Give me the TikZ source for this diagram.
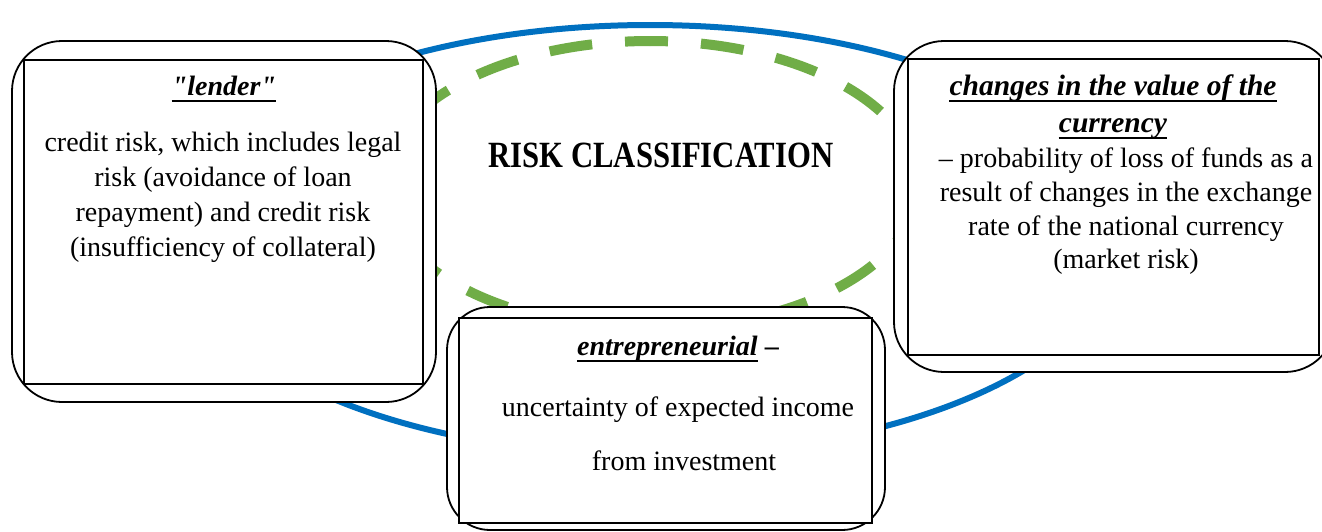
\documentclass[tikz,border=0pt]{standalone}
\usepackage{fontspec}
\setmainfont{Liberation Serif}[Ligatures=TeXOff]
\usepackage{graphicx}
\definecolor{ovalblue}{RGB}{0,112,192}
\definecolor{ovalgreen}{RGB}{112,173,71}
\tikzset{
  blueoval/.style={draw=ovalblue, line width=6pt},
  greenoval/.style={draw=ovalgreen, line width=10pt, dash pattern=on 43pt off 33pt, dash phase=#1},
  outerbox/.style={draw=black, line width=1.8pt, fill=white, rounded corners=#1, inner sep=0pt, outer sep=0pt, anchor=north west},
  outerbox/.default=50pt,
  innerbox/.style={draw=black, line width=1.8pt, fill=white, inner sep=0pt, outer sep=0pt, anchor=north west},
  txt/.style={inner sep=0pt, anchor=base, font=\fontsize{28}{34}\selectfont},
  head/.style={inner sep=0pt, anchor=base, font=\fontsize{28}{34}\selectfont\bfseries\itshape},
  rhead/.style={inner sep=0pt, anchor=base, font=\fontsize{29.5}{36}\selectfont\bfseries\itshape},
  title/.style={inner sep=0pt, anchor=base, font=\fontsize{37}{44}\selectfont\bfseries},
  uline/.style={draw=black, line width=2.4pt}
}
\begin{document}
\begin{tikzpicture}[x=1pt,y=-1pt]
\clip (0,0) rectangle (1322,531);
\fill[white] (0,0) rectangle (1322,531);
% blue oval
\draw[blueoval] (650,240) ellipse [x radius=470, y radius=215];
% green dashed oval, drawn by quadrants
\coordinate (gtop) at (650,41);
\coordinate (gleft) at (382,185);
\coordinate (gbot) at (650,329);
\draw[greenoval=18pt] (gtop) arc [start angle=-90, end angle=-180, x radius=268, y radius=144];
\draw[greenoval=9pt] (gleft) arc [start angle=180, end angle=90, x radius=268, y radius=144];
\draw[greenoval=35pt] (gbot) arc [start angle=90, end angle=0, x radius=268, y radius=144];
\draw[greenoval=25pt] (gtop) arc [start angle=-90, end angle=0, x radius=268, y radius=144];
% title
\node[title] (title) at (661,167) {\scalebox{0.83}[1]{RISK CLASSIFICATION}};
% left box
\node[outerbox, minimum width=424pt, minimum height=361pt] (lout) at (12,41) {};
\node[innerbox, minimum width=399pt, minimum height=324pt] (lin) at (24,60) {};
\node[head] (lh) at (224,95) {"lender"};
\draw[uline] ([yshift=-6pt]lh.base west) -- ([yshift=-6pt]lh.base east);
\node[txt] (l1) at (223,151) {credit risk, which includes legal};
\node[txt] (l2) at (223,186) {risk (avoidance of loan};
\node[txt] (l3) at (223,221) {repayment) and credit risk};
\node[txt] (l4) at (223,256) {(insufficiency of collateral)};
% right box
\node[outerbox, minimum width=441pt, minimum height=331pt] (rout) at (894,41) {};
\node[innerbox, minimum width=411pt, minimum height=296pt] (rin) at (908,59) {};
\node[rhead] (rh1) at (1113,95) {changes in the value of the};
\draw[uline] ([yshift=-6pt]rh1.base west) -- ([yshift=-6pt]rh1.base east);
\node[rhead] (rh2) at (1113,132) {currency};
\draw[uline] ([yshift=-6pt]rh2.base west) -- ([yshift=-6pt]rh2.base east);
\node[txt] (r1) at (1126,167) {– probability of loss of funds as a};
\node[txt] (r2) at (1126,201) {result of changes in the exchange};
\node[txt] (r3) at (1126,235) {rate of the national currency};
\node[txt] (r4) at (1126,268) {(market risk)};
% middle box
\node[outerbox=43pt, minimum width=438pt, minimum height=223pt] (mout) at (447,307) {};
\node[innerbox, minimum width=413pt, minimum height=205pt] (min) at (459,318) {};
\node[head, anchor=base west] (mh) at (577,355) {entrepreneurial};
\draw[uline] ([yshift=-6pt]mh.base west) -- ([yshift=-6pt]mh.base east);
\node[head, anchor=base west] (md) at ([xshift=7pt]mh.base east) {–};
\node[txt] (m1) at (678,416) {uncertainty of expected income};
\node[txt] (m2) at (684,470) {from investment};
\end{tikzpicture}
\end{document}
